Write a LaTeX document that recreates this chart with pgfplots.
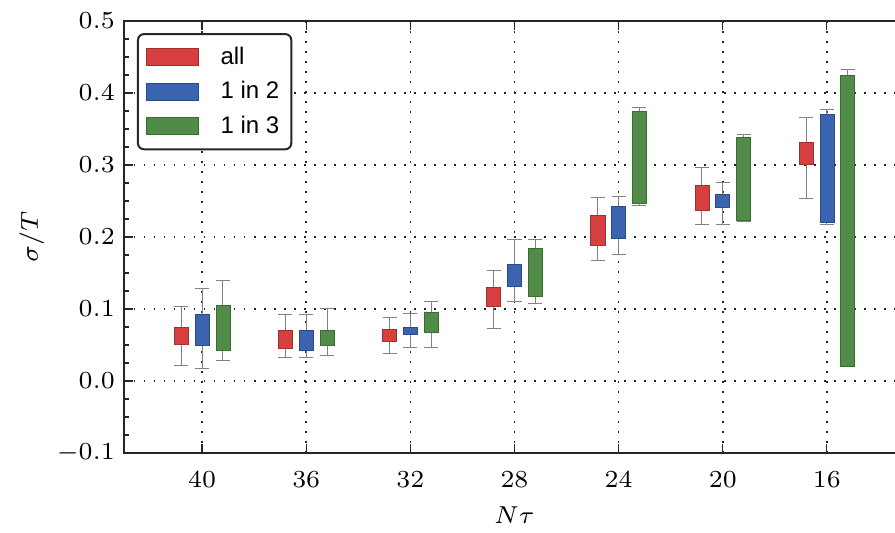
\documentclass[border=0pt]{standalone}
\usepackage{graphicx}
\usepackage{fontspec}
\usepackage{pgfplots}
\pgfplotsset{compat=1.18}
\usepgfplotslibrary{statistics}
\newfontfamily\legendfont{Liberation Sans}

\definecolor{cRed}{RGB}{214,64,64}
\definecolor{cBlue}{RGB}{58,100,176}
\definecolor{cGreen}{RGB}{80,140,72}
\definecolor{cWhisk}{RGB}{130,130,130}

\newcommand{\scl}[1]{\scalebox{1.75}{\fontsize{7}{8}\selectfont #1}}

% one box: colour, position, lower whisker, lower quartile, upper quartile, upper whisker
\newcommand{\bx}[6]{%
  \addplot[forget plot, fill=#1, draw=#1!75!black, line width=0.3pt,
    boxplot prepared={draw position=#2, lower whisker=#3, lower quartile=#4,
      median=#4, upper quartile=#5, upper whisker=#6}] coordinates {};
}

\begin{document}
\begin{tikzpicture}
\begin{axis}[
  at={(0,0)}, anchor=south west,
  scale only axis, width=390.5pt, height=216pt,
  xmin=-0.75, xmax=6.75, ymin=-0.1, ymax=0.5,
  xtick={0,1,2,3,4,5,6},
  xticklabels={\scl{$40$},\scl{$36$},\scl{$32$},\scl{$28$},\scl{$24$},\scl{$20$},\scl{$16$}},
  ytick={-0.1,0,0.1,0.2,0.3,0.4,0.5},
  yticklabels={\scl{$-0.1$},\scl{$0.0$},\scl{$0.1$},\scl{$0.2$},\scl{$0.3$},\scl{$0.4$},\scl{$0.5$}},
  minor y tick num=3,
  tick align=inside,
  major tick length=4.5pt, minor tick length=2.5pt,
  every tick/.style={black!85, line width=0.6pt},
  axis line style={black!85, line width=1.1pt},
  grid=major,
  grid style={black!85, line width=0.75pt, dash pattern=on 0.75pt off 4.25pt},
  xticklabel style={yshift=-6pt},
  yticklabel style={xshift=-1pt},
  xlabel={\scl{$N\tau$}},
  ylabel={\scl{$\sigma/T$}},
  xlabel style={at={(axis description cs:0.5,-0.1435)}, anchor=center},
  ylabel style={at={(axis description cs:-0.118,0.5)}, anchor=center},
  boxplot/draw direction=y,
  boxplot/box extend=0.135,
  boxplot/whisker extend=0.135,
  boxplot/every whisker/.style={draw=cWhisk, line width=0.5pt},
  boxplot/every median/.style={draw opacity=0},
  legend cell align=left,
  legend style={at={(axis description cs:0.0166,0.972)}, anchor=north west,
    draw=black!85, line width=1pt, rounded corners=3pt,
    font=\legendfont\fontsize{12}{14}\selectfont,
    inner xsep=4pt, inner ysep=4.5pt, row sep=3pt,
    /tikz/every odd column/.append style={column sep=9pt}},
]
\addlegendimage{legend image code/.code={\draw[fill=cRed, draw=cRed!75!black, line width=0.3pt, sharp corners] (0pt,-4.25pt) rectangle (26pt,4.25pt);}}
\addlegendentry{all}
\addlegendimage{legend image code/.code={\draw[fill=cBlue, draw=cBlue!75!black, line width=0.3pt, sharp corners] (0pt,-4.25pt) rectangle (26pt,4.25pt);}}
\addlegendentry{1 in 2}
\addlegendimage{legend image code/.code={\draw[fill=cGreen, draw=cGreen!75!black, line width=0.3pt, sharp corners] (0pt,-4.25pt) rectangle (26pt,4.25pt);}}
\addlegendentry{1 in 3}

% all
\bx{cRed}{-0.2}{0.021}{0.051}{0.074}{0.103}
\bx{cRed}{0.8}{0.033}{0.045}{0.071}{0.093}
\bx{cRed}{1.8}{0.038}{0.055}{0.072}{0.088}
\bx{cRed}{2.8}{0.073}{0.104}{0.130}{0.154}
\bx{cRed}{3.8}{0.167}{0.188}{0.230}{0.255}
\bx{cRed}{4.8}{0.218}{0.237}{0.272}{0.296}
\bx{cRed}{5.8}{0.254}{0.301}{0.332}{0.366}
% 1 in 2
\bx{cBlue}{0}{0.018}{0.050}{0.092}{0.129}
\bx{cBlue}{1}{0.033}{0.043}{0.071}{0.093}
\bx{cBlue}{2}{0.047}{0.065}{0.075}{0.094}
\bx{cBlue}{3}{0.110}{0.131}{0.162}{0.197}
\bx{cBlue}{4}{0.175}{0.198}{0.243}{0.256}
\bx{cBlue}{5}{0.218}{0.241}{0.259}{0.275}
\bx{cBlue}{6}{0.217}{0.220}{0.370}{0.377}
% 1 in 3
\bx{cGreen}{0.2}{0.028}{0.043}{0.105}{0.139}
\bx{cGreen}{1.2}{0.035}{0.049}{0.071}{0.100}
\bx{cGreen}{2.2}{0.046}{0.068}{0.096}{0.111}
\bx{cGreen}{3.2}{0.107}{0.117}{0.184}{0.196}
\bx{cGreen}{4.2}{0.244}{0.247}{0.375}{0.380}
\bx{cGreen}{5.2}{0.221}{0.223}{0.338}{0.342}
\bx{cGreen}{6.2}{0.020}{0.021}{0.425}{0.432}
\end{axis}
\pgfresetboundingbox
\path[use as bounding box] (-62pt,-40pt) rectangle (385.5pt,226.5pt);
\end{tikzpicture}
\end{document}
